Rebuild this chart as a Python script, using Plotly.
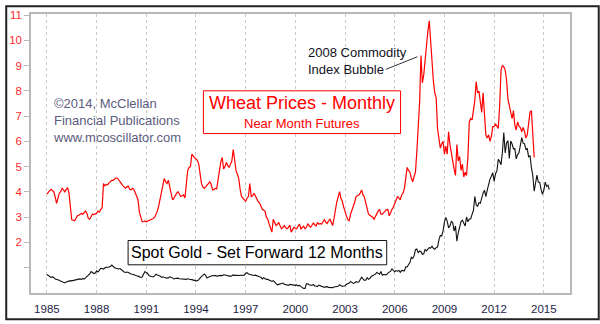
import plotly.graph_objects as go

# Wheat near-month futures, monthly ($/bu), Jan 1985 .. Jun 2014
wheat_by_year = {
    1985: [3.91, 4.00, 4.05, 4.10, 4.05, 4.00, 3.80, 3.55, 3.75, 3.95, 4.01, 4.14],
    1986: [4.08, 4.00, 4.10, 4.17, 3.95, 3.40, 2.90, 2.88, 2.86, 2.95, 3.05, 3.08],
    1987: [3.10, 3.15, 3.12, 3.20, 3.24, 3.15, 2.95, 2.92, 3.05, 3.12, 3.10, 3.12],
    1988: [3.15, 3.24, 3.20, 3.30, 3.37, 4.33, 4.24, 4.30, 4.28, 4.36, 4.40, 4.46],
    1989: [4.46, 4.50, 4.55, 4.55, 4.49, 4.40, 4.33, 4.25, 4.18, 4.15, 4.20, 4.23],
    1990: [4.10, 4.08, 4.14, 4.10, 3.97, 3.85, 3.69, 3.20, 2.99, 2.82, 2.82, 2.85],
    1991: [2.82, 2.84, 2.86, 2.90, 2.92, 2.95, 2.99, 3.10, 3.24, 3.45, 3.69, 4.00],
    1992: [4.30, 4.53, 4.40, 4.33, 4.46, 4.20, 3.90, 3.69, 3.75, 3.88, 3.95, 4.01],
    1993: [3.90, 3.82, 3.85, 3.88, 3.76, 4.30, 4.85, 4.97, 5.00, 5.49, 5.40, 5.36],
    1994: [5.30, 5.25, 5.10, 4.60, 4.33, 4.20, 4.14, 4.20, 4.27, 4.35, 4.40, 4.30],
    1995: [4.08, 4.10, 4.14, 4.12, 4.50, 4.97, 5.20, 5.36, 4.91, 5.00, 5.17, 5.05],
    1996: [4.97, 5.10, 5.23, 5.68, 5.23, 4.85, 4.70, 4.53, 4.10, 3.82, 3.75, 3.69],
    1997: [3.63, 3.75, 3.82, 4.33, 3.82, 3.85, 3.95, 3.85, 3.69, 3.62, 3.57, 3.45],
    1998: [3.31, 3.28, 3.24, 3.00, 2.92, 2.73, 2.60, 2.41, 2.92, 2.75, 2.67, 2.72],
    1999: [2.79, 2.65, 2.54, 2.60, 2.67, 2.58, 2.54, 2.60, 2.69, 2.41, 2.50, 2.60],
    2000: [2.55, 2.54, 2.65, 2.73, 2.54, 2.58, 2.64, 2.54, 2.60, 2.73, 2.65, 2.60],
    2001: [2.68, 2.77, 2.70, 2.65, 2.79, 2.72, 2.75, 2.72, 2.82, 2.90, 2.80, 2.75],
    2002: [2.85, 2.92, 2.80, 2.67, 2.95, 3.31, 3.60, 3.80, 4.01, 3.75, 3.63, 3.40],
    2003: [3.18, 3.05, 2.90, 2.86, 3.12, 3.25, 3.43, 3.60, 3.82, 3.85, 3.88, 3.95],
    2004: [4.08, 3.88, 3.80, 3.57, 3.30, 3.12, 3.08, 3.05, 3.00, 2.92, 3.05, 3.18],
    2005: [3.25, 3.31, 3.12, 3.12, 3.20, 3.24, 3.30, 3.31, 3.05, 3.20, 3.31, 3.40],
    2006: [3.57, 3.70, 3.82, 3.75, 3.69, 3.88, 3.95, 4.14, 4.60, 4.97, 4.85, 4.78],
    2007: [4.55, 4.40, 4.60, 4.78, 5.60, 6.51, 7.54, 9.40, 8.31, 8.63, 9.33, 9.90],
    2008: [10.36, 10.77, 9.85, 9.08, 8.37, 7.92, 7.73, 6.51, 6.13, 5.74, 5.90, 6.00],
    2009: [5.49, 5.81, 5.49, 6.38, 5.87, 5.50, 5.23, 4.90, 4.65, 5.87, 5.23, 5.40],
    2010: [4.85, 5.10, 4.59, 4.78, 4.65, 5.36, 6.77, 6.90, 6.85, 7.15, 7.60, 8.37],
    2011: [7.92, 7.99, 7.54, 7.15, 7.92, 6.80, 6.26, 6.13, 6.26, 6.00, 6.20, 6.58],
    2012: [6.58, 6.70, 6.60, 6.51, 7.41, 8.82, 9.01, 8.95, 8.82, 8.43, 7.67, 7.40],
    2013: [7.15, 6.90, 7.22, 6.64, 6.45, 6.77, 6.60, 6.55, 6.38, 6.55, 6.40, 6.13],
    2014: [6.26, 6.80, 7.15, 7.22, 6.26, 5.36],
}

# Spot gold, monthly ($/oz), Jan 1984 .. May 2014 (plotted 12 months later)
gold_by_year = {
    1984: [395, 385, 380, 365, 370, 365, 350, 348, 342, 335, 330, 320],
    1985: [316, 310, 320, 325, 330, 333, 330, 335, 338, 340, 345, 348],
    1986: [350, 345, 355, 348, 360, 372, 380, 400, 424, 415, 404, 410],
    1987: [431, 420, 440, 456, 455, 450, 460, 470, 465, 470, 475, 489],
    1988: [470, 463, 458, 455, 450, 455, 440, 431, 420, 415, 420, 414],
    1989: [405, 400, 397, 390, 385, 382, 378, 372, 365, 370, 395, 424],
    1990: [414, 405, 382, 380, 372, 370, 380, 397, 390, 385, 380, 365],
    1991: [372, 365, 360, 358, 360, 372, 368, 360, 350, 355, 360, 358],
    1992: [352, 350, 348, 342, 340, 345, 352, 345, 345, 343, 338, 335],
    1993: [330, 333, 340, 360, 375, 385, 400, 385, 360, 368, 375, 385],
    1994: [385, 382, 385, 378, 382, 385, 386, 382, 392, 390, 385, 380],
    1995: [378, 376, 382, 390, 386, 388, 386, 384, 384, 383, 387, 388],
    1996: [405, 414, 400, 395, 392, 386, 385, 388, 380, 380, 372, 368],
    1997: [350, 362, 350, 345, 345, 338, 325, 325, 332, 318, 300, 290],
    1998: [295, 300, 298, 308, 295, 293, 290, 285, 295, 292, 290, 288],
    1999: [285, 290, 280, 285, 270, 262, 255, 255, 300, 300, 292, 288],
    2000: [285, 295, 280, 278, 272, 288, 278, 275, 272, 265, 270, 272],
    2001: [265, 262, 258, 262, 268, 270, 266, 275, 292, 280, 275, 278],
    2002: [282, 296, 302, 308, 325, 318, 305, 312, 322, 316, 318, 345],
    2003: [368, 350, 335, 338, 362, 346, 355, 375, 385, 386, 398, 416],
    2004: [402, 397, 425, 388, 395, 395, 392, 408, 415, 428, 452, 436],
    2005: [422, 434, 428, 435, 416, 436, 430, 432, 472, 470, 495, 515],
    2006: [568, 556, 582, 645, 652, 613, 632, 625, 598, 604, 646, 632],
    2007: [650, 665, 661, 680, 659, 650, 666, 672, 743, 789, 783, 834],
    2008: [923, 971, 933, 865, 885, 930, 918, 833, 884, 730, 815, 869],
    2009: [928, 942, 916, 884, 975, 926, 955, 955, 1001, 1040, 1182, 1096],
    2010: [1082, 1118, 1113, 1180, 1215, 1245, 1181, 1246, 1307, 1357, 1386, 1421],
    2011: [1333, 1411, 1439, 1556, 1536, 1502, 1628, 1826, 1620, 1722, 1746, 1565],
    2012: [1740, 1711, 1662, 1664, 1561, 1604, 1622, 1692, 1776, 1719, 1714, 1657],
    2013: [1664, 1578, 1595, 1472, 1393, 1234, 1312, 1396, 1327, 1323, 1253, 1202],
    2014: [1244, 1326, 1284, 1296, 1250],
}

GOLD_SHIFT_YEARS = 1  # set forward 12 months

year_ticks = [1985, 1988, 1991, 1994, 1997, 2000, 2003, 2006, 2009, 2012, 2015]
wheat_ticks = [1, 2, 3, 4, 5, 6, 7, 8, 9, 10, 11]
wheat_tick_text = ["", "2", "3", "4", "5", "6", "7", "8", "9", "10", "11"]


def monthly(series, shift=0):
    xs, ys = [], []
    for yr in sorted(series):
        for m, v in enumerate(series[yr]):
            xs.append(yr + m / 12 + shift)
            ys.append(v)
    return xs, ys


wx, wy = monthly(wheat_by_year)
gx, gy = monthly(gold_by_year, GOLD_SHIFT_YEARS)

W, H = 600, 324
ML, MR, MT, MB = 26, 30, 9, 28
PW, PH = W - ML - MR, H - MT - MB


def px(x):
    return (x - ML) / PW


def py(y):
    return (H - MB - y) / PH


FONT = "Liberation Sans, Arial, sans-serif"

fig = go.Figure()
fig.add_trace(go.Scatter(x=gx, y=gy, mode="lines", yaxis="y2",
                         line=dict(color="#111111", width=1.1), hoverinfo="skip"))
fig.add_trace(go.Scatter(x=wx, y=wy, mode="lines",
                         line=dict(color="#ff0000", width=1.2), hoverinfo="skip"))

shapes = [
    # outer frame
    dict(type="rect", xref="paper", yref="paper",
         x0=px(1), x1=px(W - 1), y0=py(H - 1), y1=py(1),
         line=dict(color="#222222", width=2), fillcolor="rgba(0,0,0,0)", layer="above"),
    # wheat title box
    dict(type="rect", xref="paper", yref="paper",
         x0=px(200), x1=px(399), y0=py(132), y1=py(88),
         line=dict(color="#ff0000", width=1), fillcolor="white", layer="above"),
    # gold title box
    dict(type="rect", xref="paper", yref="paper",
         x0=px(124), x1=px(385), y0=py(267), y1=py(242),
         line=dict(color="#111111", width=1), fillcolor="white", layer="above"),
    # pointer to the 2008 spike
    dict(type="line", xref="paper", yref="paper",
         x0=px(384), y0=py(66), x1=px(416), y1=py(53),
         line=dict(color="#333333", width=1), layer="above"),
]

annotations = [
    dict(xref="paper", yref="paper", x=px(46), y=py(119), xanchor="left", yanchor="middle",
         text="©2014, McClellan<br>Financial Publications<br>www.mcoscillator.com",
         align="left", showarrow=False, font=dict(family=FONT, size=13, color="#5c5c7c")),
    dict(xref="paper", yref="paper", x=px(299.5), y=py(100.5), xanchor="center", yanchor="middle",
         text="Wheat Prices - Monthly", showarrow=False,
         font=dict(family=FONT, size=18, color="#ff0000")),
    dict(xref="paper", yref="paper", x=px(299.5), y=py(122), xanchor="center", yanchor="middle",
         text="Near Month Futures", showarrow=False,
         font=dict(family=FONT, size=13, color="#ff0000")),
    dict(xref="paper", yref="paper", x=px(304), y=py(57.5), xanchor="left", yanchor="middle",
         text="2008 Commodity<br>Index Bubble", align="left", showarrow=False,
         font=dict(family=FONT, size=13, color="#111122")),
    dict(xref="paper", yref="paper", x=px(254.5), y=py(254.5), xanchor="center", yanchor="middle",
         text="Spot Gold - Set Forward 12 Months", showarrow=False,
         font=dict(family=FONT, size=16, color="#000000")),
]

fig.update_layout(
    width=W, height=H,
    margin=dict(l=ML, r=MR, t=MT, b=MB),
    paper_bgcolor="white", plot_bgcolor="white",
    showlegend=False,
    shapes=shapes, annotations=annotations,
    xaxis=dict(range=[1984.04, 2016.58], tickvals=year_ticks,
               ticktext=[str(t) for t in year_ticks],
               showgrid=True, gridcolor="#c8c8c8", griddash="dot", gridwidth=1,
               showline=True, mirror=True, linecolor="#b8b8b8", linewidth=1.5,
               ticks="", zeroline=False, ticklabelstandoff=4,
               tickfont=dict(family=FONT, size=11.5, color="#1e1e46")),
    yaxis=dict(range=[0, 11.04], tickvals=wheat_ticks, ticktext=wheat_tick_text,
               showgrid=False, zeroline=False,
               showline=True, mirror=True, linecolor="#b8b8b8", linewidth=1.5,
               ticks="outside", ticklen=5, tickcolor="#b8b8b8",
               tickfont=dict(family=FONT, size=11.5, color="#ff2a2a")),
    yaxis2=dict(range=[208, 3022], overlaying="y", side="right",
                visible=False, showgrid=False, zeroline=False),
)

fig.write_html("out.html")
